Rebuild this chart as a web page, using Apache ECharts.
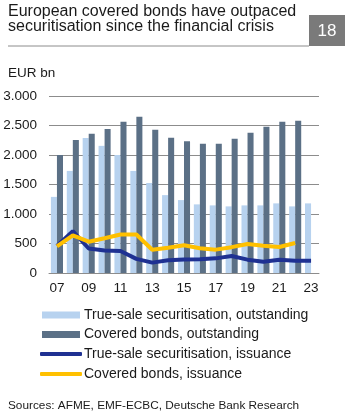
<!DOCTYPE html>
<html>
<head>
<meta charset="utf-8">
<style>
html,body{margin:0;padding:0;background:#fff;}
#chart{width:345px;height:415px;}
</style>
<script src="https://cdn.jsdelivr.net/npm/echarts@6/dist/echarts.min.js"></script>
</head>
<body>
<div id="chart"></div>
<script>
var categories = ['07','08','09','10','11','12','13','14','15','16','17','18','19','20','21','22','23'];
var securitisationOutstanding = [1290,1730,2290,2155,2000,1730,1525,1320,1236,1163,1146,1129,1146,1146,1180,1129,1180];
var coveredOutstanding = [2000,2255,2359,2439,2563,2648,2427,2291,2234,2189,2189,2274,2376,2478,2563,2580,null];
var securitisationIssuance = [460,710,415,382,372,240,176,215,228,232,248,287,226,192,226,208,208];
var coveredIssuance = [450,638,530,588,652,652,395,428,470,420,396,438,492,462,440,508,null];
var seriesNames = ['True-sale securitisation, outstanding','Covered bonds, outstanding','True-sale securitisation, issuance','Covered bonds, issuance'];
var yTicks = {min:0, max:3000, interval:500};

var FONT = '"Liberation Sans", Arial, sans-serif';
var chart = echarts.init(document.getElementById('chart'), null, {renderer:'canvas'});
function fmt(v){ return String(v).replace(/\B(?=(\d{3})+(?!\d))/g, '.'); }
function legend(name, top, left, icon, w, h, padLeft){
  return {show:true, data:[{name:name, icon:icon}], left:left, top:top, orient:'vertical',
    itemWidth:w, itemHeight:h, itemGap:0, selectedMode:false, padding:0,
    textStyle:{fontFamily:FONT, fontSize:14, color:'#1a1a1a', padding:[0,0,0,padLeft]}};
}
var option = {
  animation:false,
  textStyle:{fontFamily:FONT},
  grid:{left:49, right:26, top:96, bottom:142, containLabel:false},
  legend:[
    legend(seriesNames[0], 308, 42, 'rect', 38, 7, -1),
    legend(seriesNames[1], 327.5, 42, 'rect', 38, 7, -1),
    legend(seriesNames[2], 347, 40, 'roundRect', 42, 4, -3),
    legend(seriesNames[3], 367, 40, 'roundRect', 42, 4, -3)
  ],
  xAxis:{type:'category', data:categories, boundaryGap:true,
    axisLine:{show:true, lineStyle:{color:'#8c8c8c', width:1}},
    axisTick:{show:false},
    axisLabel:{interval:1, margin:8, fontSize:13.5, color:'#1a1a1a', fontFamily:FONT}
  },
  yAxis:{type:'value', min:yTicks.min, max:yTicks.max, interval:yTicks.interval,
    axisLine:{show:false}, axisTick:{show:false},
    splitLine:{lineStyle:{color:'#8c8c8c', width:1}},
    axisLabel:{margin:12, fontSize:13.5, color:'#1a1a1a', fontFamily:FONT, formatter:fmt}
  },
  series:[
    {name:seriesNames[0], type:'bar', data:securitisationOutstanding, barGap:'0%', barCategoryGap:'24%',
      itemStyle:{color:'#b7d2ef'}},
    {name:seriesNames[1], type:'bar', data:coveredOutstanding,
      itemStyle:{color:'#5b7086'}},
    {name:seriesNames[2], type:'line', data:securitisationIssuance, symbol:'none', z:3,
      lineStyle:{color:'#1f3192', width:4}, itemStyle:{color:'#1f3192'}},
    {name:seriesNames[3], type:'line', data:coveredIssuance, symbol:'none', z:4,
      lineStyle:{color:'#ffc000', width:4}, itemStyle:{color:'#ffc000'}}
  ],
  graphic:[
    {type:'text', left:8, top:4, style:{text:'European covered bonds have outpaced\nsecuritisation since the financial crisis',
      font:'16px '+FONT, fill:'#1a1a1a', lineHeight:15}},
    {type:'line', shape:{x1:8, y1:46, x2:309, y2:46}, style:{stroke:'#8c8c8c', lineWidth:1}},
    {type:'rect', shape:{x:309, y:15, width:36, height:31}, style:{fill:'#7a7a7a'}},
    {type:'text', x:327, y:31, style:{text:'18', font:'17px '+FONT, fill:'#ffffff', align:'center', verticalAlign:'middle'}},
    {type:'text', left:8, top:66, style:{text:'EUR bn', font:'13.5px '+FONT, fill:'#1a1a1a'}},
    {type:'text', left:8, top:400, style:{text:'Sources: AFME, EMF-ECBC, Deutsche Bank Research', font:'11.8px '+FONT, fill:'#1a1a1a'}}
  ]
};
chart.setOption(option);
</script>
</body>
</html>
